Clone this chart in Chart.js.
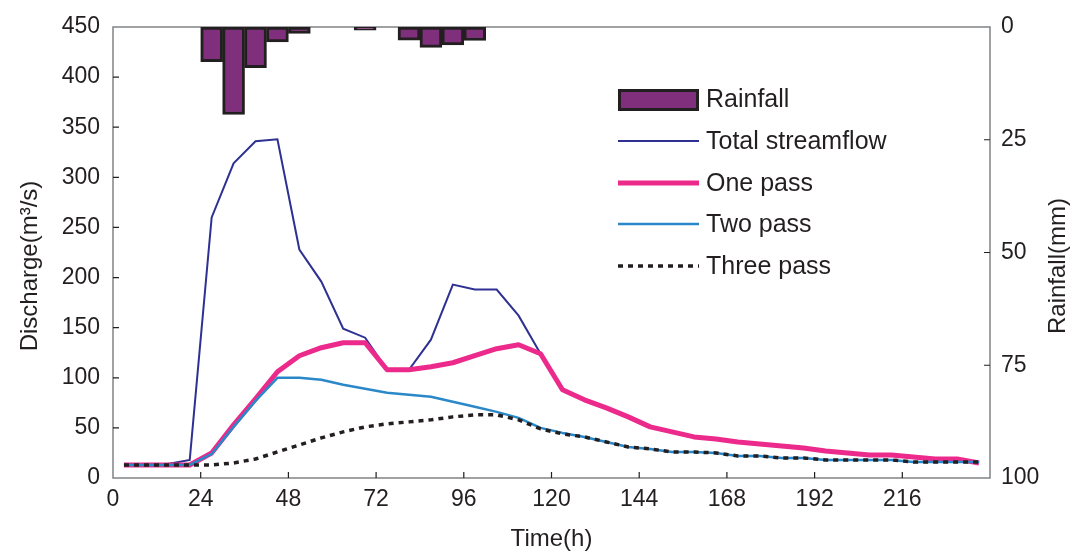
<!DOCTYPE html>
<html>
<head>
<meta charset="utf-8">
<script src="https://cdn.jsdelivr.net/npm/chart.js@4.4.1/dist/chart.umd.min.js"></script>
<style>
  html, body { margin: 0; padding: 0; background: #fff; }
</style>
</head>
<body>
<canvas id="canvas" width="1075" height="554"></canvas>
<script>
// time of each sample (h)
const times = [3, 9, 15, 21, 27, 33, 39, 45, 51, 57, 63, 69, 75, 81, 87, 93, 99, 105, 111, 117,
  123, 129, 135, 141, 147, 153, 159, 165, 171, 177, 183, 189, 195, 201, 207, 213, 219, 225, 231, 237];
// rainfall (mm), null = no rain
const rainfall = [null, null, null, null, 7.7, 19.4, 9.0, 3.3, 1.4, null, null, 0.7, null, 2.9, 4.5, 4.0, 3.0, null, null, null,
  null, null, null, null, null, null, null, null, null, null, null, null, null, null, null, null, null, null, null, null];
// discharge (m3/s)
const totalStreamflow = [14, 14, 14, 18, 260, 314, 336, 338, 228, 196, 149, 140, 108, 108, 138, 193, 188, 188, 162, 124,
  88, 78, 70, 61, 51, 46, 41, 39, 36, 34, 32, 30, 27, 25, 23, 23, 21, 19, 19, 15];
const onePass = [13, 13, 13, 13, 25, 53, 79, 106, 122, 130, 135, 135, 108, 108, 111, 115, 122, 129, 133, 124,
  88, 78, 70, 61, 51, 46, 41, 39, 36, 34, 32, 30, 27, 25, 23, 23, 21, 19, 19, 15];
const twoPass = [13, 13, 13, 13, 24, 51, 77, 100, 100, 98, 93, 89, 85, 83, 81, 76, 71, 66, 60, 50,
  45, 41, 36, 31, 29, 26, 26, 25, 22, 22, 20, 20, 18, 18, 18, 18, 16, 16, 16, 16];
const threePass = [13, 13, 13, 13, 13, 15, 19, 26, 33, 40, 46, 51, 54, 56, 58, 61, 63, 63, 58, 49,
  44, 41, 36, 31, 29, 26, 26, 25, 22, 22, 20, 20, 18, 18, 18, 18, 16, 16, 16, 16];

const textColor = "#231f20";
const fontFamily = '"Liberation Sans", Arial, sans-serif';
const tickFont = { family: fontFamily, size: 23 };

const colors = {
  rainFill: "#7f2f7c",
  rainEdge: "#231f20",
  total: "#2e3192",
  one: "#ec2a8b",
  two: "#2a88c9",
  three: "#231f20",
};

function points(values) {
  return times.map((t, i) => ({ x: t, y: values[i] }));
}

// frame, inward tick marks, legend and the two vertical axis titles
const decorations = {
  id: "decorations",
  beforeDatasetsDraw(chart) {
    const { ctx, chartArea: a, scales } = chart;
    ctx.save();
    ctx.strokeStyle = "#808285";
    ctx.lineWidth = 1.5;
    ctx.strokeRect(a.left, a.top, a.right - a.left, a.bottom - a.top);

    ctx.strokeStyle = textColor;
    ctx.lineWidth = 1.2;
    ctx.beginPath();
    scales.x.ticks.forEach(t => {
      if (t.value <= 0 || t.value >= 240) return;
      const px = scales.x.getPixelForValue(t.value);
      ctx.moveTo(px, a.bottom); ctx.lineTo(px, a.bottom - 6);
    });
    scales.y.ticks.forEach(t => {
      if (t.value <= 0 || t.value >= 450) return;
      const py = scales.y.getPixelForValue(t.value);
      ctx.moveTo(a.left, py); ctx.lineTo(a.left + 6, py);
    });
    scales.y2.ticks.forEach(t => {
      if (t.value <= 0 || t.value >= 100) return;
      const py = scales.y2.getPixelForValue(t.value);
      ctx.moveTo(a.right, py); ctx.lineTo(a.right - 6, py);
    });
    ctx.stroke();
    ctx.restore();
  },
  afterDraw(chart) {
    const { ctx } = chart;
    ctx.save();
    ctx.font = "25px " + fontFamily;
    ctx.fillStyle = textColor;
    ctx.textBaseline = "middle";

    // legend
    const lx0 = 618, lx1 = 699, tx = 706;
    ctx.fillStyle = colors.rainFill;
    ctx.fillRect(lx0, 89, lx1 - lx0, 22);
    ctx.strokeStyle = colors.rainEdge;
    ctx.lineWidth = 3;
    ctx.strokeRect(lx0 + 1.5, 89 + 1.5, lx1 - lx0 - 3, 19);
    ctx.fillStyle = textColor;
    ctx.fillText("Rainfall", tx, 100);

    const lines = [
      { label: "Total streamflow", y: 141, color: colors.total, width: 2, dash: [] },
      { label: "One pass", y: 183, color: colors.one, width: 5, dash: [] },
      { label: "Two pass", y: 224, color: colors.two, width: 2.5, dash: [] },
      { label: "Three pass", y: 266, color: colors.three, width: 3.5, dash: [5, 5] },
    ];
    lines.forEach(l => {
      ctx.beginPath();
      ctx.strokeStyle = l.color;
      ctx.lineWidth = l.width;
      ctx.setLineDash(l.dash);
      ctx.moveTo(lx0, l.y); ctx.lineTo(lx1, l.y);
      ctx.stroke();
      ctx.setLineDash([]);
      ctx.fillText(l.label, tx, l.y + 1);
    });

    // axis titles, both read bottom to top
    ctx.font = "24px " + fontFamily;
    ctx.textAlign = "center";
    ctx.save();
    ctx.translate(30, 266);
    ctx.rotate(-Math.PI / 2);
    ctx.fillText("Discharge(m³/s)", 0, 0);
    ctx.restore();
    ctx.save();
    ctx.translate(1058, 266);
    ctx.rotate(-Math.PI / 2);
    ctx.fillText("Rainfall(mm)", 0, 0);
    ctx.restore();
    ctx.restore();
  },
};

function chart() {
  const ctx = document.getElementById("canvas").getContext("2d");
  new Chart(ctx, {
    data: {
      datasets: [
        {
          type: "line", label: "Three pass", data: points(threePass), yAxisID: "y", order: 1,
          borderColor: colors.three, borderWidth: 3.5, borderDash: [5, 5], pointRadius: 0, tension: 0,
        },
        {
          type: "line", label: "Two pass", data: points(twoPass), yAxisID: "y", order: 2,
          borderColor: colors.two, borderWidth: 2.5, pointRadius: 0, tension: 0, borderJoinStyle: "round",
        },
        {
          type: "line", label: "One pass", data: points(onePass), yAxisID: "y", order: 3,
          borderColor: colors.one, borderWidth: 5, pointRadius: 0, tension: 0, borderJoinStyle: "round",
        },
        {
          type: "line", label: "Total streamflow", data: points(totalStreamflow), yAxisID: "y", order: 4,
          borderColor: colors.total, borderWidth: 2, pointRadius: 0, tension: 0,
        },
        {
          type: "bar", label: "Rainfall", data: points(rainfall), yAxisID: "y2", order: 5,
          backgroundColor: colors.rainFill, borderColor: colors.rainEdge, borderWidth: 3,
          borderSkipped: false, barPercentage: 1, categoryPercentage: 1,
        },
      ],
    },
    options: {
      responsive: false,
      animation: false,
      layout: { padding: { top: 27, left: 0, right: 0, bottom: 0 } },
      plugins: { legend: { display: false }, tooltip: { enabled: false } },
      scales: {
        x: {
          type: "linear", min: 0, max: 240, offset: false,
          afterFit: s => { s.height = 76; },
          grid: { display: false, drawTicks: false, offset: false },
          border: { display: false },
          ticks: {
            stepSize: 24, autoSkip: false, maxRotation: 0, padding: 8,
            color: textColor, font: tickFont,
            callback: v => (v === 240 ? "" : v),
          },
          title: {
            display: true, text: "Time(h)", color: textColor,
            font: { family: fontFamily, size: 24 }, padding: { top: 0, bottom: 0 },
          },
        },
        y: {
          position: "left", min: 0, max: 450,
          afterFit: s => { s.width = 113; },
          grid: { display: false, drawTicks: false },
          border: { display: false },
          ticks: { stepSize: 50, padding: 13, color: textColor, font: tickFont },
        },
        y2: {
          position: "right", min: 0, max: 100, reverse: true,
          afterFit: s => { s.width = 85; },
          grid: { display: false, drawTicks: false },
          border: { display: false },
          ticks: { stepSize: 25, padding: 11, color: textColor, font: tickFont },
        },
      },
    },
    plugins: [decorations],
  });
}
chart();
</script>
</body>
</html>
